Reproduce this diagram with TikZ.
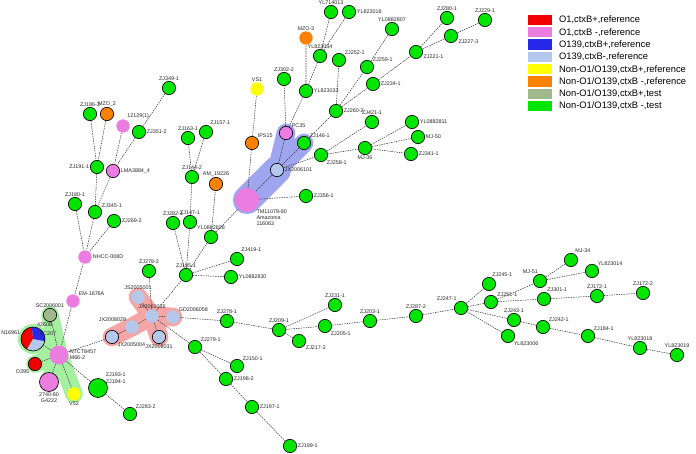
\documentclass[tikz,border=0pt]{standalone}
\usepackage{fontspec}
\setmainfont{Liberation Sans}
\usepackage{tikz}
\usetikzlibrary{positioning}
\definecolor{RefRed}{RGB}{240, 0, 0}
\definecolor{RefViolet}{RGB}{235, 125, 225}
\definecolor{RefBlue}{RGB}{40, 40, 235}
\definecolor{RefSky}{RGB}{180, 200, 235}
\definecolor{RefYellow}{RGB}{255, 255, 0}
\definecolor{RefOrange}{RGB}{250, 130, 0}
\definecolor{TestSage}{RGB}{160, 185, 140}
\definecolor{TestLime}{RGB}{0, 230, 0}
\definecolor{HaloGreen}{RGB}{165, 240, 160}
\definecolor{HaloRed}{RGB}{245, 165, 165}
\definecolor{HaloBlue}{RGB}{160, 165, 240}
\definecolor{LinkGray}{RGB}{60, 60, 60}
\pgfdeclarelayer{halo}
\pgfdeclarelayer{links}
\pgfsetlayers{halo,links,main}
\tikzset{
  strain/.style={circle, inner sep=0pt, minimum size=0.4cm, line width=0.55pt},
  ring/.style={draw=black},
  big/.style={minimum size=0.57cm},
  huge/.style={minimum size=0.72cm},
  o1pos/.style={strain, fill=RefRed},
  o1neg/.style={strain, fill=RefViolet},
  o139neg/.style={strain, fill=RefSky},
  nonpos/.style={strain, fill=RefYellow},
  nonneg/.style={strain, fill=RefOrange},
  testpos/.style={strain, fill=TestSage, ring},
  testneg/.style={strain, fill=TestLime, ring},
  lbl/.style={font=\fontsize{4.6}{5.2}\selectfont, inner sep=0.6pt,
    text=black!85},
  every label/.append style={lbl},
  link/.style={dash pattern=on 1.3pt off 0.8pt, line width=0.45pt,
    color=LinkGray},
  halo/.style={line cap=round, line join=round, draw=#1},
  key/.style={rectangle, minimum width=0.72cm, minimum height=0.31cm,
    inner sep=0pt},
  keytxt/.style={font=\fontsize{8}{9}\selectfont, inner sep=0.5pt},
}

\begin{document}
\begin{tikzpicture}[x=0.03cm, y=-0.03cm]
  \useasboundingbox (0,0) rectangle (696,454);

  % upper left branch
  \node[testneg, label=above:ZJ186-3] (zj1863) at (90,114) {};
  \node[nonneg, ring, label=above:MZO\_2] (mzo2) at (107,114) {};
  \node[o1neg, label=60:12129(1)] (s12129) at (123,126) {};
  \node[testneg, label=right:ZJ351-2] (zj3512) at (139,132) {};
  \node[testneg, label=above:ZJ349-1] (zj3491) at (169,88) {};
  \node[testneg, label=above:ZJ163-1] (zj1631) at (188,138) {};
  \node[testneg, label=60:ZJ157-1] (zj1571) at (206,132) {};
  \node[testneg, label=left:ZJ191-1] (zj1911) at (97,167) {};
  \node[o1neg, ring, label=right:LMA3884\_4] (lma) at (113,171) {};
  \node[testneg, label=above:ZJ180-1] (zj1801) at (75,204) {};
  \node[testneg, label=30:ZJ345-1] (zj3451) at (95,212) {};
  \node[testneg, label=right:ZJ269-2] (zj2692) at (114,221) {};
  \node[o1neg, label=right:NHCC-008D] (nhcc) at (85,257) {};
  \node[o1neg, label=45:EM-1676A] (em) at (73,301) {};

  % middle
  \node[testneg, label=above:ZJ144-2] (zj1442) at (192,177) {};
  \node[nonneg, ring, label=above:AM\_19226] (am) at (216,184) {};
  \node[testneg, label=above:ZJ282-1] (zj2821) at (173,223) {};
  \node[testneg, label=above:ZJ147-1] (zj1471) at (190,222) {};
  \node[testneg, label=above:YL0882828] (yl2828) at (211,237) {};
  \node[testneg, label=above:ZJ278-2] (zj2782) at (149,271) {};
  \node[testneg, label=above:ZJ185-1] (zj1851) at (186,275) {};
  \node[testneg, label=60:ZJ419-1] (zj4191) at (237,259) {};
  \node[testneg, label=right:YL0882830] (yl2830) at (231,277) {};
  \node[o1neg, huge,
    label={[align=left]below right:TM11079-80\\Amazonia\\116063}] (tm)
    at (247,200) {};
  \node[nonpos, label=above:VS1] (vs1) at (257,89) {};
  \node[nonneg, ring, label=45:IPS15] (ips) at (252,143) {};
  \node[testneg, label=right:ZJ356-1] (zj3561) at (306,196) {};

  % upper branch
  \node[testneg, label=above:ZJ302-2] (zj3022) at (284,79) {};
  \node[o1neg, ring, label=45:PC35] (pc35) at (286,133) {};
  \node[nonneg, label=above:MZO-3] (mzo3) at (306,38) {};
  \node[testneg, label=above:YL714013] (yl4013) at (331,12) {};
  \node[testneg, label=right:YL823016] (yl3016) at (349,12) {};
  \node[testneg, label=above:YL823034] (yl3034) at (320,56) {};
  \node[testneg, label=45:ZJ252-1] (zj2521) at (339,60) {};
  \node[testneg, label=right:YL823033] (yl3033) at (306,91) {};
  \node[testneg, label=45:ZJ146-1] (zj1461) at (304,143) {};
  \node[o139neg, ring, label=right:JX2006101] (jx6101) at (277,170) {};
  \node[testneg, label=below right:ZJ258-1] (zj2581) at (321,155) {};
  \node[testneg, label=right:ZJ260-2] (zj2602) at (336,111) {};
  \node[testneg, label=45:ZJ259-1] (zj2591) at (367,67) {};
  \node[testneg, label=right:ZJ234-1] (zj2341) at (373,84) {};
  \node[testneg, label=above:YL0882807] (yl2807) at (392,29) {};
  \node[testneg, label=-15:ZJ221-1] (zj2211) at (416,52) {};
  \node[testneg, label=above:ZJ280-1] (zj2801) at (447,18) {};
  \node[testneg, label=above:ZJ229-1] (zj2291) at (485,20) {};
  \node[testneg, label=-20:ZJ227-3] (zj2273) at (451,36) {};
  \node[testneg, label=above:ZJ421-1] (zj4211) at (372,122) {};
  \node[testneg, label=below:MJ-36] (mj36) at (365,148) {};
  \node[testneg, label=right:YL0882811] (yl2811) at (412,122) {};
  \node[testneg, label=right:MJ-50] (mj50) at (418,137) {};
  \node[testneg, label=right:ZJ341-1] (zj3411) at (411,154) {};

  % lower left cluster
  \node[testpos, label=above:SC2006001] (sc) at (50,315) {};
  \fill[RefRed] (33,339) -- ++(95:0.36cm)
    arc[start angle=95, end angle=240, radius=0.36cm] -- cycle;
  \fill[RefSky] (33,339) -- ++(240:0.36cm)
    arc[start angle=240, end angle=350, radius=0.36cm] -- cycle;
  \fill[RefBlue] (33,339) -- ++(350:0.36cm)
    arc[start angle=350, end angle=455, radius=0.36cm] -- cycle;
  \node[strain, huge, ring, label=165:N16961, label=75:4260B,
    label={[xshift=-0.2cm, yshift=0.17cm]right:VC207}] (pie)
    at (33,339) {};
  \node[o1neg, big, label={[align=left]right:NTCT8457\\M66-2}] (ntct)
    at (59,355) {};
  \node[o1pos, ring, label=below left:O395] (o395) at (35,364) {};
  \node[o1neg, big, ring, label={[align=center]below:2740-80\\G4222}]
    (g4222) at (49,382) {};
  \node[nonpos, label=below:V52] (v52) at (74,394) {};
  \node[testneg, big,
    label={[align=left, yshift=-0.09cm]above right:ZJ193-1\\ZJ194-1}]
    (zj1931) at (98,388) {};
  \node[testneg, label=45:ZJ283-2] (zj2832) at (130,414) {};

  % JX group
  \node[o139neg, label=above left:JX2008029] (jx8029) at (132,327) {};
  \node[o139neg, ring, label=below right:JX2005004] (jx5004)
    at (112,337) {};
  \node[o139neg, label=above:JX2001016] (jx1016) at (152,316) {};
  \node[o139neg, label=above right:GD2006058] (gd) at (173,317) {};
  \node[o139neg, ring, label=below:JX2008031] (jx8031) at (159,337) {};
  \node[o139neg, label=above:JS2005001] (js5001) at (138,297) {};

  % lower right branch
  \node[testneg, label=above:ZJ278-1] (zj2781) at (227,321) {};
  \node[testneg, label=45:ZJ279-1] (zj2791) at (195,347) {};
  \node[testneg, label=45:ZJ150-1] (zj1501) at (237,366) {};
  \node[testneg, label=right:ZJ198-2] (zj1982) at (226,379) {};
  \node[testneg, label=right:ZJ197-1] (zj1971) at (252,407) {};
  \node[testneg, label=right:ZJ199-1] (zj1991) at (290,446) {};
  \node[testneg, label=above:ZJ209-1] (zj2091) at (279,330) {};
  \node[testneg, label=-30:ZJ217-2] (zj2172) at (299,341) {};
  \node[testneg, label=above:ZJ231-1] (zj2311) at (335,305) {};
  \node[testneg, label=below right:ZJ205-1] (zj2051) at (325,326) {};
  \node[testneg, label=above:ZJ203-1] (zj2031) at (370,321) {};
  \node[testneg, label=above:ZJ287-2] (zj2872) at (416,316) {};
  \node[testneg, label=120:ZJ247-1] (zj2471) at (461,308) {};
  \node[testneg, label=70:ZJ245-1] (zj2451) at (489,284) {};
  \node[testneg, label=40:ZJ251-1] (zj2511) at (491,302) {};
  \node[testneg, label=100:MJ-51] (mj51) at (540,281) {};
  \node[testneg, label=60:MJ-34] (mj34) at (571,260) {};
  \node[testneg, label=45:YL823014] (yl3014) at (592,271) {};
  \node[testneg, label=70:ZJ301-1] (zj3011) at (544,299) {};
  \node[testneg, label=above:ZJ172-1] (zj1721) at (597,296) {};
  \node[testneg, label=above:ZJ172-2] (zj1722) at (643,293) {};
  \node[testneg, label=above:ZJ243-1] (zj2431) at (514,320) {};
  \node[testneg, label=45:ZJ242-1] (zj2421) at (543,327) {};
  \node[testneg, label=below right:YL823006] (yl3006) at (508,336) {};
  \node[testneg, label=45:ZJ184-1] (zj1841) at (588,336) {};
  \node[testneg, label=above:YL823018] (yl3018) at (640,348) {};
  \node[testneg, label=above:YL823019] (yl3019) at (677,355) {};

  % legend
  \node[key, fill=RefRed] (k1) at (540,20) {};
  \node[key, fill=RefViolet, below=0.045cm of k1] (k2) {};
  \node[key, fill=RefBlue, below=0.045cm of k2] (k3) {};
  \node[key, fill=RefSky, below=0.045cm of k3] (k4) {};
  \node[key, fill=RefYellow, below=0.045cm of k4] (k5) {};
  \node[key, fill=RefOrange, below=0.045cm of k5] (k6) {};
  \node[key, fill=TestSage, below=0.045cm of k6] (k7) {};
  \node[key, fill=TestLime, below=0.045cm of k7] (k8) {};
  \node[keytxt, right=0.18cm of k1] {O1,ctxB+,reference};
  \node[keytxt, right=0.18cm of k2] {O1,ctxB -,reference};
  \node[keytxt, right=0.18cm of k3] {O139,ctxB+,reference};
  \node[keytxt, right=0.18cm of k4] {O139,ctxB-,reference};
  \node[keytxt, right=0.18cm of k5] {Non-O1/O139,ctxB+,reference};
  \node[keytxt, right=0.18cm of k6] {Non-O1/O139,ctxB -,reference};
  \node[keytxt, right=0.18cm of k7] {Non-O1/O139,ctxB+,test};
  \node[keytxt, right=0.18cm of k8] {Non-O1/O139,ctxB -,test};

  \begin{pgfonlayer}{halo}
    \fill[HaloGreen] (pie.center) circle[radius=0.45cm];
    \draw[halo=HaloGreen, line width=15pt] (sc.center) -- (ntct.center)
      -- (v52.center) (pie.center) -- (ntct.center) -- (o395.center)
      (ntct.center) -- (g4222.center);
    \draw[halo=HaloRed, line width=16pt] (js5001.center) -- (jx1016.center)
      -- (gd.center) (jx1016.center) -- (jx8029.center) -- (jx5004.center)
      (jx1016.center) -- (jx8031.center);
    \draw[halo=HaloBlue, line width=24pt] (tm.center) -- (jx6101.center);
    \draw[halo=HaloBlue, line width=16pt] (jx6101.center) -- (pc35.center)
      (jx6101.center) -- (zj1461.center);
  \end{pgfonlayer}

  \begin{pgfonlayer}{links}
    \draw[link] (zj1863) -- (zj1911) (mzo2) -- (zj1911)
      (s12129) -- (lma) (zj3512) -- (lma) (zj3491) -- (zj3512)
      (zj1911) -- (zj3451) (lma) -- (zj3451)
      (zj1801) -- (nhcc) (zj3451) -- (nhcc) (zj2692) -- (nhcc)
      (nhcc) -- (em) (em) -- (ntct);
    \draw[link] (ntct) -- (sc) (ntct) -- (pie) (ntct) -- (o395)
      (ntct) -- (g4222) (ntct) -- (v52) (ntct) -- (zj1931)
      (zj1931) -- (zj2832) (ntct) -- (jx5004);
    \draw[link] (jx5004) -- (jx8029) (jx8029) -- (jx1016)
      (jx1016) -- (js5001) (jx1016) -- (gd) (jx1016) -- (jx8031)
      (jx1016) -- (zj2782) (jx1016) -- (zj1851) (jx1016) -- (zj2791);
    \draw[link] (gd) -- (zj2781) (zj2781) -- (zj2091)
      (zj2091) -- (zj2311) (zj2091) -- (zj2051) (zj2091) -- (zj2172)
      (zj2051) -- (zj2031) (zj2031) -- (zj2872) (zj2872) -- (zj2471)
      (zj2471) -- (zj2451) (zj2471) -- (zj2511) (zj2471) -- (zj2431)
      (zj2471) -- (yl3006) (zj2511) -- (mj51) (zj2511) -- (zj3011)
      (mj51) -- (mj34) (mj51) -- (yl3014) (zj3011) -- (zj1721)
      (zj1721) -- (zj1722) (zj2431) -- (zj2421) (zj2421) -- (zj1841)
      (zj1841) -- (yl3018) (yl3018) -- (yl3019);
    \draw[link] (zj2791) -- (zj1501) (zj2791) -- (zj1982)
      (zj1982) -- (zj1971) (zj1971) -- (zj1991);
    \draw[link] (zj1851) -- (zj2821) (zj1851) -- (zj1471)
      (zj1851) -- (yl2828) (zj1851) -- (zj4191) (zj1851) -- (yl2830)
      (zj1471) -- (zj1442) (zj1442) -- (zj1631) (zj1442) -- (zj1571)
      (yl2828) -- (am) (yl2828) -- (tm);
    \draw[link] (tm) -- (ips) (ips) -- (vs1) (tm) -- (zj3561)
      (tm) -- (jx6101) (jx6101) -- (pc35) (jx6101) -- (zj1461)
      (jx6101) -- (zj2581) (pc35) -- (zj3022) (pc35) -- (yl3033)
      (yl3033) -- (mzo3) (yl3033) -- (yl3034) (yl3034) -- (yl4013)
      (yl3034) -- (yl3016);
    \draw[link] (zj1461) -- (zj2602) (zj2602) -- (zj2521)
      (zj2602) -- (zj2591) (zj2591) -- (yl2807) (zj2602) -- (zj2341)
      (zj2341) -- (zj2211) (zj2211) -- (zj2801) (zj2211) -- (zj2273)
      (zj2273) -- (zj2291) (zj2581) -- (zj4211) (zj2581) -- (mj36)
      (mj36) -- (yl2811) (mj36) -- (mj50) (mj36) -- (zj3411);
  \end{pgfonlayer}
\end{tikzpicture}
\end{document}
